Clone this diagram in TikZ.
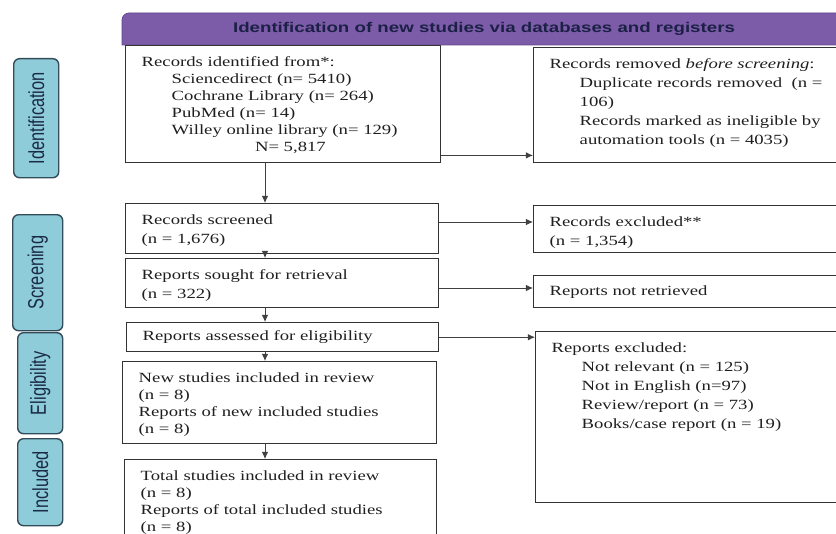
\documentclass[tikz,border=0pt]{standalone}
\usepackage{fontspec}
\usepackage{xcolor}
\usepackage{graphicx}
\usepackage{tikz}
\usetikzlibrary{calc}
\usetikzlibrary{arrows.meta}
\setmainfont[FakeStretch=1.33]{Liberation Serif}
\newfontfamily\hdrfont[FakeStretch=1.33]{Liberation Sans}
\newfontfamily\tabfont{Liberation Sans}
\definecolor{hdrpurple}{RGB}{124,92,168}
\definecolor{hdredge}{RGB}{96,70,140}
\definecolor{hdrtext}{RGB}{28,32,70}
\definecolor{tabblue}{RGB}{142,204,218}
\definecolor{tabedge}{RGB}{50,76,90}
\definecolor{tabtext}{RGB}{26,42,72}
\newlength\pxu
\setlength\pxu{0.03cm}
\newcommand{\boxtext}[4][t]{\parbox[c][\dimexpr#3\pxu-22\pxu\relax][#1]{\dimexpr#2\pxu-32\pxu\relax}{\raggedright #4}}
\newcommand{\tabtext}[1]{\rotatebox{90}{\scalebox{1}[1.33]{\tabfont\fontsize{14}{14}\selectfont #1}}}
\tikzset{
  flowbox/.style={draw=black!80, line width=1.2pt, anchor=north west, inner xsep=0.48cm, inner ysep=0.33cm, text=black!88, font=\fontsize{12}{14.5}\selectfont},
  widebox/.style={flowbox, font=\fontsize{12}{16.3}\selectfont},
  tabbox/.style={draw=tabedge, fill=tabblue, line width=1.2pt, rounded corners=5pt, anchor=north west, inner sep=0pt, text=tabtext},
  flowarrow/.style={draw=black!75, line width=0.7pt, -{Latex[length=6pt,width=5.5pt]}}
}

\begin{document}
\begin{tikzpicture}[x=0.03cm,y=-0.03cm]
        \useasboundingbox (0,0) rectangle (836,534);
        \clip (0,0) rectangle (836,534);
        \fill[hdrpurple, draw=hdredge, line width=0.6pt] (122,45) [rounded corners=6pt] -- (122,13) -- (860,13) [sharp corners] -- (860,45) -- cycle;
        \node[text=hdrtext, font=\hdrfont\fontsize{12}{12}\selectfont\bfseries] (hdr) at (484,29) {Identification of new studies via databases and registers};
        \node[tabbox, minimum width=1.35cm, minimum height=3.57cm] (tabid) at (13,58) {\tabtext{Identification}};
        \node[tabbox, minimum width=1.5cm, minimum height=3.48cm] (tabscr) at (12,214) {\tabtext{Screening}};
        \node[tabbox, minimum width=1.35cm, minimum height=3.03cm] (tabelig) at (17,332) {\tabtext{Eligibility}};
        \node[tabbox, minimum width=1.35cm, minimum height=2.61cm] (tabincl) at (17,438) {\tabtext{Included}};
        \node[flowbox] (ident) at (125,45) {\boxtext{315}{117}{Records identified from*:\\
            \hspace*{0.9cm}Sciencedirect (n= 5410)\\
            \hspace*{0.9cm}Cochrane Library (n= 264)\\
            \hspace*{0.9cm}PubMed (n= 14)\\
            \hspace*{0.9cm}Willey online library (n= 129)\\
            \hspace*{3.4cm}N= 5,817}};
        \node[widebox] (removed) at (533,47) {\boxtext{330}{115}{Records removed \textit{before screening}:\\
            \hspace*{0.9cm}Duplicate records removed\ \ (n =\\
            \hspace*{0.9cm}106)\\
            \hspace*{0.9cm}Records marked as ineligible by\\
            \hspace*{0.9cm}automation tools (n = 4035)}};
        \node[widebox] (screened) at (125,203) {\boxtext{313}{50}{Records screened\\ (n = 1,676)}};
        \node[widebox] (excluded) at (533,205) {\boxtext{330}{47}{Records excluded**\\ (n = 1,354)}};
        \node[widebox] (sought) at (125,258) {\boxtext{313}{49}{Reports sought for retrieval\\ (n = 322)}};
        \node[flowbox] (notretr) at (533,275) {\boxtext[c]{330}{32}{Reports not retrieved}};
        \node[flowbox] (assessed) at (126,322) {\boxtext[c]{312}{29}{Reports assessed for eligibility}};
        \node[widebox] (repexcl) at (535,331) {\boxtext{330}{171}{Reports excluded:\\
            \hspace*{0.9cm}Not relevant (n = 125)\\
            \hspace*{0.9cm}Not in English (n=97)\\
            \hspace*{0.9cm}Review/report (n = 73)\\
            \hspace*{0.9cm}Books/case report (n = 19)}};
        \node[flowbox] (newstud) at (122,361) {\boxtext{314}{82}{New studies included in review\\ (n = 8)\\ Reports of new included studies\\ (n = 8)}};
        \node[flowbox] (total) at (124,459) {\boxtext{312}{95}{Total studies included in review\\ (n = 8)\\ Reports of total included studies\\ (n = 8)}};
        \coordinate (spine) at (265,0);
        \draw[flowarrow] ($(ident.south east)+(0,-8)$) coordinate (r1) -- (r1 -| removed.west);
        \draw[flowarrow] ($(screened.north east)+(0,19)$) coordinate (r2) -- (r2 -| excluded.west);
        \draw[flowarrow] ($(sought.north east)+(0,30)$) coordinate (r3) -- (r3 -| notretr.west);
        \draw[flowarrow] (assessed.east) -- (assessed.east -| repexcl.west);
        \draw[flowarrow] (ident.south -| spine) -- (screened.north -| spine);
        \draw[flowarrow] (screened.south -| spine) -- (sought.north -| spine);
        \draw[flowarrow] (sought.south -| spine) -- (assessed.north -| spine);
        \draw[flowarrow] (assessed.south -| spine) -- (newstud.north -| spine);
        \draw[flowarrow] (newstud.south -| spine) -- (total.north -| spine);
    \end{tikzpicture}
\end{document}
